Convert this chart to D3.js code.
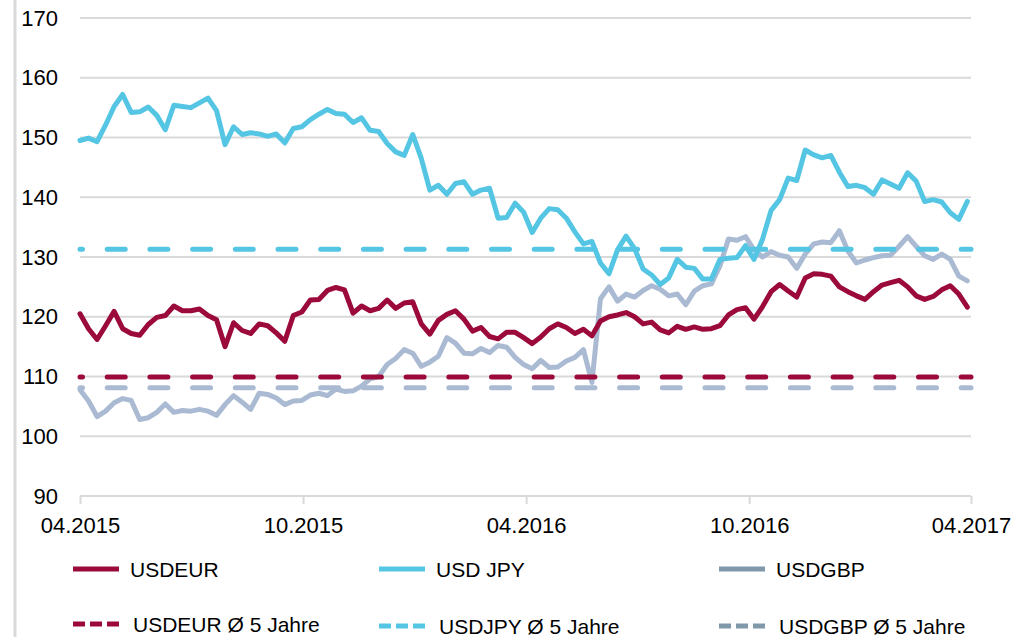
<!doctype html>
<html>
  <head>
    <meta charset="utf-8" />
    <title>USD Wechselkurse</title>
    <script src="https://cdn.jsdelivr.net/npm/d3@7"></script>
    <style>
      html,
      body {
        margin: 0;
        padding: 0;
        background: #fff;
        overflow: hidden;
      }
      text {
        font-family: "Liberation Sans", Arial, sans-serif;
        fill: #000;
      }
    </style>
  </head>
  <body>
    <script>
      // weekly values, first week 01.04.2015
      const jpyValues = [
        149.5, 149.9, 149.3, 152.1, 155.2, 157.2, 154.2, 154.3, 155.1, 153.7,
        151.3, 155.4, 155.2, 155.0, 155.8, 156.6, 154.5, 148.8, 151.8, 150.5,
        150.8, 150.6, 150.2, 150.6, 149.1, 151.5, 151.8, 153.0, 153.9, 154.7,
        154.0, 153.9, 152.5, 153.3, 151.2, 151.0, 149.0, 147.6, 147.0, 150.5,
        146.5, 141.2, 142.0, 140.5, 142.3, 142.6, 140.5, 141.2, 141.5, 136.5,
        136.6, 139.0, 137.5, 134.1, 136.5, 138.1, 137.9, 136.5, 134.2, 132.2,
        132.6, 129.0, 127.2, 131.2, 133.5, 131.4, 128.0, 127.0, 125.4, 126.5,
        129.6, 128.3, 128.1, 126.3, 126.3, 129.6, 129.8, 129.9, 131.9, 129.6,
        133.0, 137.8, 139.6, 143.2, 142.8, 147.9, 147.1, 146.6, 147.0, 144.2,
        141.8, 142.0, 141.6, 140.5, 142.9, 142.2, 141.5, 144.1, 142.7, 139.3,
        139.6, 139.2, 137.4, 136.3, 139.3,
      ];
      const eurValues = [
        120.5, 118.0, 116.2, 118.5, 120.9, 118.0, 117.2, 116.9, 118.7, 119.9,
        120.2, 121.8, 121.0, 121.0, 121.3, 120.2, 119.5, 115.0, 119.0, 117.7,
        117.2, 118.8, 118.5, 117.3, 115.9, 120.2, 120.8, 122.8, 122.9, 124.4,
        124.9, 124.5, 120.6, 121.8, 121.0, 121.4, 122.8, 121.4, 122.3, 122.5,
        118.8, 117.1, 119.4, 120.4, 121.0, 119.6, 117.6, 118.2, 116.7, 116.3,
        117.4, 117.4, 116.5, 115.5, 116.6, 118.0, 118.8, 118.2, 117.2, 117.9,
        116.8, 119.3, 120.0, 120.3, 120.7, 120.0, 118.8, 119.1, 117.8, 117.3,
        118.4, 117.9, 118.3, 117.9, 118.0, 118.5, 120.3, 121.2, 121.5, 119.6,
        121.7, 124.2, 125.4, 124.3, 123.3, 126.5, 127.2, 127.1, 126.8, 125.0,
        124.2, 123.5, 122.9, 124.2, 125.3, 125.7, 126.1, 125.0, 123.5, 122.9,
        123.4, 124.5, 125.2, 123.8, 121.6,
      ];
      const gbpValues = [
        107.8, 105.9, 103.3, 104.2, 105.6, 106.3, 106.0, 102.8, 103.1, 104.0,
        105.4, 104.0, 104.3, 104.2, 104.5, 104.2, 103.5, 105.3, 106.8, 105.7,
        104.5, 107.2, 107.0, 106.4, 105.3, 105.9, 106.0, 106.9, 107.2, 106.8,
        107.9, 107.5, 107.6, 108.4, 109.6, 110.0, 112.0, 113.0, 114.5, 113.9,
        111.7, 112.4, 113.4, 116.5, 115.6, 113.9, 113.8, 114.7, 114.0, 115.2,
        114.9, 113.2, 112.0, 111.3, 112.7, 111.5, 111.6, 112.6, 113.2, 114.5,
        109.0, 123.0, 125.0, 122.6, 123.8, 123.3, 124.4, 125.2, 124.6, 123.5,
        123.8, 122.0, 124.3, 125.2, 125.5, 128.5, 133.0, 132.8, 133.4, 131.2,
        130.0, 130.9, 130.3, 130.0, 128.1, 130.5, 132.2, 132.5, 132.4, 134.4,
        131.0, 129.0, 129.5, 129.9, 130.2, 130.3, 131.8, 133.4, 131.8, 130.2,
        129.6, 130.5, 129.6, 126.8, 126.0,
      ];

      // 5-year averages
      const eurAvg = 109.9;
      const jpyAvg = 131.3;
      const gbpAvg = 108.1;

      const yTicks = [90, 100, 110, 120, 130, 140, 150, 160, 170];
      const xTicks = ["2015-04-01", "2015-10-01", "2016-04-01", "2016-10-01", "2017-04-01"];

      const legendItems = [
        { label: "USDEUR", color: "#9b0a3b", dashed: false },
        { label: "USD JPY", color: "#55c5e4", dashed: false },
        { label: "USDGBP", color: "#7f98aa", dashed: false },
        { label: "USDEUR Ø 5 Jahre", color: "#9b0a3b", dashed: true },
        { label: "USDJPY Ø 5 Jahre", color: "#55c5e4", dashed: true },
        { label: "USDGBP Ø 5 Jahre", color: "#7f98aa", dashed: true },
      ];

      const width = 1035;
      const height = 637;
      const margin = { top: 18, right: 64, bottom: 141, left: 80 };
      const gridColor = "#d9d9d9";

      const parse = d3.timeParse("%Y-%m-%d");
      const start = parse("2015-04-01");
      const end = parse("2017-04-01");
      const weeks = d3.timeDay.range(start, parse("2017-03-30"), 7);

      const x = d3
        .scaleTime()
        .domain([start, end])
        .range([margin.left, width - margin.right]);
      const y = d3
        .scaleLinear()
        .domain([90, 170])
        .range([height - margin.bottom, margin.top]);

      const svg = d3
        .select("body")
        .append("svg")
        .attr("width", width)
        .attr("height", height);

      svg.append("rect").attr("width", width).attr("height", height).attr("fill", "#fff");

      // thin frame line on the left
      svg
        .append("line")
        .attr("x1", 15)
        .attr("x2", 15)
        .attr("y1", 0)
        .attr("y2", height)
        .attr("stroke", gridColor)
        .attr("stroke-width", 3);

      // gridlines
      svg
        .append("g")
        .selectAll("line")
        .data(yTicks)
        .join("line")
        .attr("x1", margin.left)
        .attr("x2", width - margin.right)
        .attr("y1", (d) => y(d))
        .attr("y2", (d) => y(d))
        .attr("stroke", gridColor)
        .attr("stroke-width", 2);

      // y axis labels
      const yAxis = svg
        .append("g")
        .attr("transform", `translate(${margin.left},0)`)
        .call(d3.axisLeft(y).tickValues(yTicks).tickSize(0).tickPadding(22).tickFormat(d3.format("d")));
      yAxis.select(".domain").remove();
      yAxis.selectAll("text").attr("font-size", 22).attr("font-family", null);

      // x axis
      const xAxis = svg
        .append("g")
        .attr("transform", `translate(0,${y(90)})`)
        .call(
          d3
            .axisBottom(x)
            .tickValues(xTicks.map(parse))
            .tickSize(8)
            .tickPadding(13)
            .tickFormat(d3.timeFormat("%m.%Y")),
        );
      xAxis.select(".domain").remove();
      xAxis.selectAll(".tick line").attr("stroke", gridColor).attr("stroke-width", 2);
      xAxis.selectAll("text").attr("font-size", 22).attr("font-family", null);

      const line = d3
        .line()
        .x((d, i) => x(weeks[i]))
        .y((d) => y(d));

      const series = [
        { values: gbpValues, color: "#a9bad2" },
        { values: eurValues, color: "#9b0a3b" },
        { values: jpyValues, color: "#55c5e4" },
      ];

      svg
        .append("g")
        .attr("fill", "none")
        .attr("stroke-width", 5)
        .attr("stroke-linejoin", "round")
        .attr("stroke-linecap", "round")
        .selectAll("path")
        .data(series)
        .join("path")
        .attr("stroke", (d) => d.color)
        .attr("d", (d) => line(d.values));

      // average lines
      const averages = [
        { value: jpyAvg, color: "#55c5e4" },
        { value: eurAvg, color: "#9b0a3b" },
        { value: gbpAvg, color: "#a9bad2" },
      ];

      svg
        .append("g")
        .attr("stroke-width", 5)
        .attr("stroke-linecap", "round")
        .attr("stroke-dasharray", "18 24.7")
        .attr("stroke-dashoffset", 15.5)
        .selectAll("line")
        .data(averages)
        .join("line")
        .attr("x1", x(start))
        .attr("x2", x(end))
        .attr("y1", (d) => y(d.value))
        .attr("y2", (d) => y(d.value))
        .attr("stroke", (d) => d.color);

      // legend
      const legendCols = [73, 379, 719];
      const legendRows = [569, 624];

      const legend = svg
        .append("g")
        .selectAll("g")
        .data(legendItems)
        .join("g")
        .attr(
          "transform",
          (d, i) => `translate(${legendCols[i % 3]},${legendRows[Math.floor(i / 3)] + (i > 3 ? 2 : 0)})`,
        );

      legend
        .append("line")
        .attr("x1", 0)
        .attr("x2", 46)
        .attr("stroke", (d) => d.color)
        .attr("stroke-width", 5)
        .attr("stroke-dasharray", (d) => (d.dashed ? "12 5" : null));

      legend
        .append("text")
        .attr("x", (d) => (d.dashed ? 60 : 57))
        .attr("dy", "0.36em")
        .attr("font-size", 21)
        .text((d) => d.label);
    </script>
  </body>
</html>
